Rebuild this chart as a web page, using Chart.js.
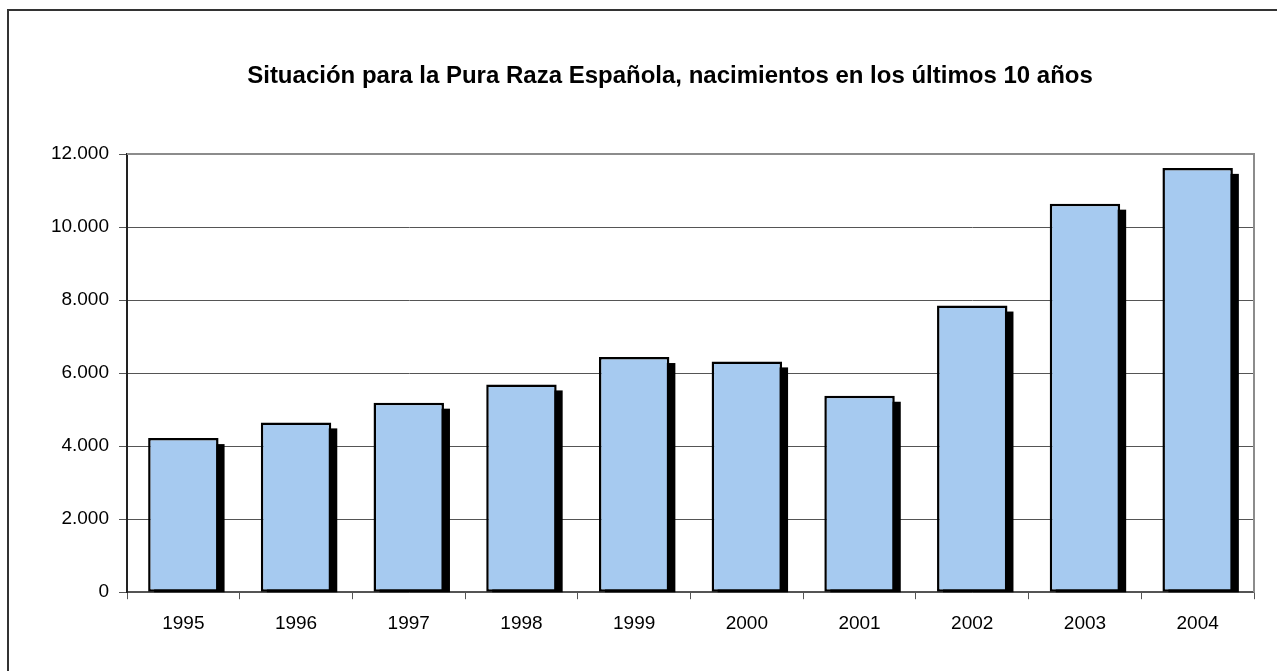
<!DOCTYPE html>
<html>
<head>
<meta charset="utf-8">
<title>Nacimientos PRE</title>
<script src="https://cdn.jsdelivr.net/npm/chart.js@4/dist/chart.umd.min.js"></script>
<style>
  html, body { margin: 0; padding: 0; background: #fff; overflow: hidden; }
  #wrap { position: relative; width: 1277px; height: 671px; }
  #frame {
    position: absolute; left: 7px; top: 9px; right: -10px; bottom: -10px;
    border-left: 2px solid #333; border-top: 2px solid #333;
    pointer-events: none;
  }
  canvas { position: absolute; left: 0; top: 0; }
</style>
</head>
<body>
<div id="wrap">
  <canvas id="chart" width="1277" height="671"></canvas>
  <div id="frame"></div>
</div>
<script>
const TITLE  = "Situación para la Pura Raza Española, nacimientos en los últimos 10 años";
const YEARS  = ["1995", "1996", "1997", "1998", "1999", "2000", "2001", "2002", "2003", "2004"];
const BIRTHS = [4220, 4650, 5190, 5690, 6440, 6320, 5380, 7850, 10640, 11620];
const Y_TICKS = [0, 2000, 4000, 6000, 8000, 10000, 12000];

const FONT = "'Liberation Sans', Arial, sans-serif";

// 12000 -> "12.000"
const fmt = v => String(v).replace(/\B(?=(\d{3})+(?!\d))/g, ".");

// title sits centred on the whole frame, not on the plot area
const frameTitle = {
  id: "frameTitle",
  afterDraw(chart) {
    const { ctx } = chart;
    ctx.save();
    ctx.font = `bold 24px ${FONT}`;
    ctx.fillStyle = "#000";
    ctx.textAlign = "center";
    ctx.textBaseline = "middle";
    ctx.fillText(TITLE, 670, 76);
    ctx.restore();
  },
};

// solid black drop shadow behind every bar, clipped at the axis
const barShadow = {
  id: "barShadow",
  beforeDatasetsDraw(chart) {
    const { ctx, chartArea: a } = chart;
    const meta = chart.getDatasetMeta(0);
    ctx.save();
    ctx.beginPath();
    ctx.rect(a.left, a.top, a.right - a.left, a.bottom - a.top);
    ctx.clip();
    ctx.fillStyle = "#000";
    meta.data.forEach(bar => {
      const { x, y, width, base } = bar.getProps(["x", "y", "width", "base"], true);
      ctx.fillRect(x - width / 2 + 6, y + 6, width, base - y);
    });
    ctx.restore();
  },
};

// gray frame on top and right of the plot area
const plotFrame = {
  id: "plotFrame",
  afterDraw(chart) {
    const { ctx, chartArea: a } = chart;
    ctx.save();
    ctx.strokeStyle = "#8c8c8c";
    ctx.lineWidth = 2;
    ctx.beginPath();
    ctx.moveTo(a.left, a.top);
    ctx.lineTo(a.right, a.top);
    ctx.lineTo(a.right, a.bottom);
    ctx.stroke();
    ctx.restore();
  },
};

new Chart(document.getElementById("chart"), {
  type: "bar",
  data: {
    labels: YEARS,
    datasets: [{
      data: BIRTHS,
      backgroundColor: "#a6caf0",
      borderColor: "#000",
      borderWidth: 2.5,
      borderSkipped: false,
      categoryPercentage: 1,
      barPercentage: 0.625,
    }],
  },
  options: {
    responsive: false,
    animation: false,
    layout: { padding: { left: 30, right: 23, top: 154, bottom: 23 } },
    plugins: {
      legend: { display: false },
      tooltip: { enabled: false },
      title: { display: false },
    },
    scales: {
      x: {
        offset: true,
        grid: { offset: true, drawOnChartArea: false, tickLength: 7, color: "#555", lineWidth: 1 },
        border: { color: "#555", width: 1.5 },
        ticks: { color: "#000", padding: 13, font: { family: FONT, size: 19 } },
      },
      y: {
        min: 0,
        max: 12000,
        afterFit: s => { s.width = 97; },
        afterBuildTicks: s => { s.ticks = Y_TICKS.map(v => ({ value: v })); },
        grid: { color: "#555", lineWidth: 1, tickLength: 8 },
        border: { color: "#222", width: 2 },
        ticks: { color: "#000", padding: 10, font: { family: FONT, size: 19 }, callback: v => fmt(v) },
      },
    },
  },
  plugins: [barShadow, plotFrame, frameTitle],
});
</script>
</body>
</html>
